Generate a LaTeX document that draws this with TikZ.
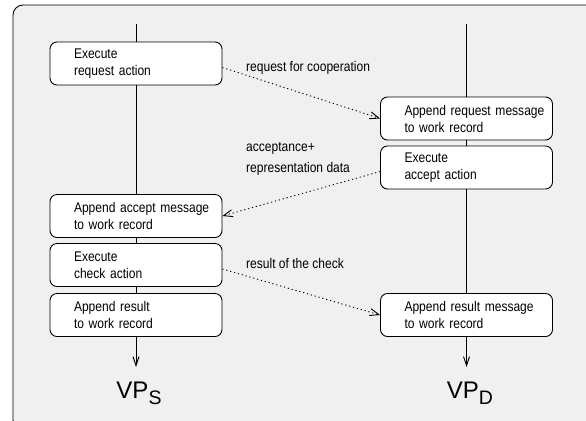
\documentclass[tikz,border=0pt]{standalone}
\usepackage{fontspec}
\setmainfont{Liberation Sans}[FakeStretch=0.86]
\newfontfamily\vpfont{Liberation Sans}
\usetikzlibrary{arrows.meta}
\definecolor{framegray}{gray}{0.94}
\newcommand{\vpname}[1]{\vpfont\fontsize{24bp}{24bp}\selectfont VP\raisebox{-6bp}{\fontsize{19.5bp}{19.5bp}\selectfont #1}}

\begin{document}
\begin{tikzpicture}[x=1bp,y=-1bp,
  stepbox/.style={draw,line width=0.9bp,rounded corners=7bp,fill=white,
    text width=172bp,inner xsep=0bp,minimum height=43bp,align=left,
    font=\fontsize{14bp}{17bp}\selectfont,execute at begin node={\leftskip=24bp}},
  msg/.style={line width=0.9bp,dash pattern=on 1.2bp off 2.8bp,-{Straight Barb[length=9bp,width=7bp]}},
  life/.style={line width=0.9bp},
  msgtext/.style={anchor=west,align=left,inner sep=0bp,font=\fontsize{14bp}{21bp}\selectfont}]
\clip (0,0) rectangle (586,420);
\draw[line width=0.9bp,rounded corners=10bp,fill=framegray] (13,5) rectangle (600,430);
% source side
\node[stepbox] (srequest) at (136,63.5) {Execute\\request action};
\node[stepbox] (saccept) at (136,216) {Append accept message\\to work record};
\node[stepbox] (scheck) at (136,265) {Execute\\check action};
\node[stepbox] (sresult) at (136,315) {Append result\\to work record};
% destination side
\node[stepbox] (drequest) at (466.5,118.5) {Append request message\\to work record};
\node[stepbox] (daccept) at (466.5,167.5) {Execute\\accept action};
\node[stepbox] (dresult) at (466.5,315) {Append result message\\to work record};
% life lines
\coordinate (stop) at (136,24);
\coordinate (send) at (136,367);
\coordinate (dtop) at (466.5,24);
\coordinate (dend) at (466.5,367);
\draw[life] (stop) -- (srequest.north);
\draw[life] (srequest.south) -- (saccept.north);
\draw[life] (saccept.south) -- (scheck.north);
\draw[life] (scheck.south) -- (sresult.north);
\draw[life,-{Straight Barb[length=9bp,width=6bp]}] (sresult.south) -- (send);
\draw[life] (dtop) -- (drequest.north);
\draw[life] (drequest.south) -- (daccept.north);
\draw[life] (daccept.south) -- (dresult.north);
\draw[life,-{Straight Barb[length=9bp,width=6bp]}] (dresult.south) -- (dend);
\node[anchor=base] (vps) at (139,398) {\vpname{S}};
\node[anchor=base] (vpd) at (470,398) {\vpname{D}};
% messages
\draw[msg] ([yshift=-4bp]srequest.east) -- (drequest.west);
\node[msgtext] (reqtext) at (246,68) {request for cooperation};
\draw[msg] ([yshift=-4bp]daccept.west) -- (saccept.east);
\node[msgtext] (acctext) at (246,158.5) {acceptance+\\representation data};
\draw[msg] ([yshift=-4bp]scheck.east) -- (dresult.west);
\node[msgtext] (chktext) at (246,263) {result of the check};
\end{tikzpicture}
\end{document}
